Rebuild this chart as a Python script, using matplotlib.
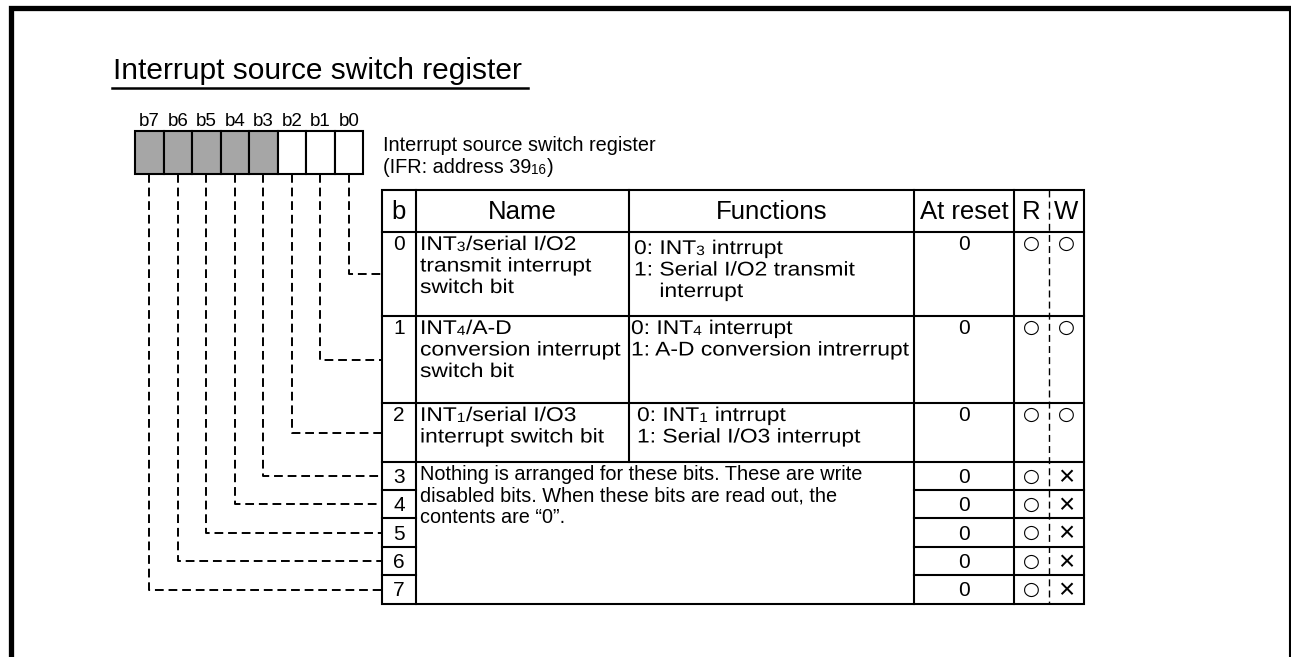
import matplotlib
matplotlib.use("Agg")
import matplotlib.pyplot as plt
from matplotlib.patches import Rectangle
from matplotlib.textpath import TextToPath
from matplotlib.font_manager import FontProperties
from matplotlib.transforms import Affine2D
from matplotlib.patheffects import AbstractPathEffect

plt.rcParams['font.family'] = ['Liberation Sans', 'DejaVu Sans']

# ---------------- data ----------------
title = "Interrupt source switch register"
reg_desc = ["Interrupt source switch register",
            "(IFR: address 39\u2081\u2086)"]
bit_labels = ["b7", "b6", "b5", "b4", "b3", "b2", "b1", "b0"]
bit_unused = [True, True, True, True, True, False, False, False]
headers = ["b", "Name", "Functions", "At reset", "R", "W"]
row_bits = ["0", "1", "2", "3", "4", "5", "6", "7"]
names = [
    ["INT\u2083/serial I/O2", "transmit interrupt", "switch bit"],
    ["INT\u2084/A-D", "conversion interrupt", "switch bit"],
    ["INT\u2081/serial I/O3", "interrupt switch bit"],
]
functions = [
    ["0: INT\u2083 intrrupt", "1: Serial I/O2 transmit", "    interrupt"],
    ["0: INT\u2084 interrupt", "1: A-D conversion intrerrupt"],
    ["0: INT\u2081 intrrupt", "1: Serial I/O3 interrupt"],
]
reserved_note = ["Nothing is arranged for these bits. These are write",
                 "disabled bits. When these bits are read out, the",
                 "contents are \u201c0\u201d."]
reset_values = ["0", "0", "0", "0", "0", "0", "0", "0"]
read_marks = ["\u25cb"] * 8
write_marks = ["\u25cb", "\u25cb", "\u25cb", "\u00d7", "\u00d7", "\u00d7", "\u00d7", "\u00d7"]

# ---------------- layout (pixel coords) ----------------
W, H = 1291, 657
fig = plt.figure(figsize=(W / 100, H / 100), dpi=100)
ax = fig.add_axes([0, 0, 1, 1])
ax.set_xlim(0, W)
ax.set_ylim(H, 0)
ax.axis('off')

K = 'black'
LW = 1.5
PT = 100 / 72.0
SUBS = {chr(0x2080 + d): str(d) for d in range(10)}
_t2p = TextToPath()


class HStretch(AbstractPathEffect):
    """Stretch rendered text horizontally about display x = x0."""

    def __init__(self, sx, x0):
        super().__init__()
        self.sx, self.x0 = sx, x0

    def draw_path(self, renderer, gc, tpath, affine, rgbFace=None):
        st = Affine2D().translate(-self.x0, 0).scale(self.sx, 1).translate(self.x0, 0)
        renderer.draw_path(gc, tpath, affine + st, rgbFace)


def adv(s, size):
    p = FontProperties(family='Liberation Sans', size=size)
    return _t2p.get_text_width_height_descent(s, p, ismath=False)[0] * PT


def rich(x, y, s, size, sx=1.0):
    """Real text; unicode subscript digits become small digits near baseline."""
    runs = []
    for ch in s:
        sub = ch in SUBS
        c = SUBS.get(ch, ch)
        if runs and runs[-1][1] == sub:
            runs[-1][0] += c
        else:
            runs.append([c, sub])
    x0 = x
    pe = [HStretch(sx, x0)] if sx != 1.0 else None
    for txt, sub in runs:
        fs = size * 0.68 if sub else size
        sp = adv("a a", fs) - adv("aa", fs)
        lead = len(txt) - len(txt.lstrip(' '))
        trail = len(txt) - len(txt.rstrip(' '))
        x += lead * sp
        core = txt.strip(' ')
        if core:
            ax.text(x, y + (1 if sub else 0), core, fontsize=fs,
                    ha='left', va='baseline', path_effects=pe)
            x += adv(core, fs) + (0.5 if sub else 0)
        x += trail * sp
    return x


# page border
ax.plot([10.5, 10.5, W], [H, 7.5, 7.5], color=K, lw=3.8, solid_capstyle='butt',
        solid_joinstyle='miter')
ax.plot([W - 1.5, W - 1.5], [7.5, H], color=K, lw=1.5)

# title
ax.text(113, 79, title, fontsize=21.5, ha='left', va='baseline')
ax.plot([112, 528], [87.5, 87.5], color=K, lw=1.8)

# register cells
reg_x0, reg_x1, reg_y0, reg_y1 = 135, 363, 131, 174
cw = (reg_x1 - reg_x0) / len(bit_labels)
for i, (lab, unused) in enumerate(zip(bit_labels, bit_unused)):
    x = reg_x0 + i * cw
    ax.add_patch(Rectangle((x, reg_y0), cw, reg_y1 - reg_y0,
                           facecolor='#a6a6a6' if unused else 'white',
                           edgecolor=K, lw=LW))
    ax.text(x + cw / 2, 126, lab, fontsize=13.5, ha='center', va='baseline')

rich(383, 151, reg_desc[0], 14.3)
rich(383, 173, reg_desc[1], 14.3)

# table geometry
cx = [382, 416, 629, 914, 1014, 1049, 1084]
ry = [190, 232, 316, 403, 462, 490, 518, 547, 575, 604]
func_dx = [5, 2, 8]
func_dy = [4, 0, 0]

ax.add_patch(Rectangle((cx[0], ry[0]), cx[-1] - cx[0], ry[-1] - ry[0],
                       facecolor='none', edgecolor=K, lw=LW))
for x in (cx[1], cx[3], cx[4]):
    ax.plot([x, x], [ry[0], ry[-1]], color=K, lw=LW)
ax.plot([cx[2], cx[2]], [ry[0], ry[4]], color=K, lw=LW)
ax.plot([cx[5], cx[5]], [ry[0], ry[-1]], color=K, lw=1.0, ls=(0, (5, 3)))
for y in ry[1:5]:
    ax.plot([cx[0], cx[-1]], [y, y], color=K, lw=LW)
for y in ry[5:-1]:
    ax.plot([cx[0], cx[1]], [y, y], color=K, lw=LW)
    ax.plot([cx[3], cx[-1]], [y, y], color=K, lw=LW)

# header
hy = (ry[0] + ry[1]) / 2 + 8
for j, h in enumerate(headers):
    ax.text((cx[j] + cx[j + 1]) / 2, hy, h, fontsize=18.5,
            ha='center', va='baseline')

BODY = 14.3
SX = 1.15
LS = 21.5
name_rows = len(names)
for r in range(len(row_bits)):
    top, bot = ry[r + 1], ry[r + 2]
    mid = (top + bot) / 2
    if r < name_rows:
        base = top + 18
        ax.text((cx[0] + cx[1]) / 2, base, row_bits[r], fontsize=15,
                ha='center', va='baseline')
        for k, line in enumerate(names[r]):
            rich(cx[1] + 4, base + k * LS, line, BODY, SX)
        for k, line in enumerate(functions[r]):
            rich(cx[2] + func_dx[r], base + func_dy[r] + k * LS, line, BODY, SX)
        my = base
    else:
        ax.text((cx[0] + cx[1]) / 2, mid + 7, row_bits[r], fontsize=15,
                ha='center', va='baseline')
        my = mid + 7
    ax.text((cx[3] + cx[4]) / 2, my, reset_values[r], fontsize=15,
            ha='center', va='baseline')
    ax.text((cx[4] + cx[5]) / 2, my - 7, read_marks[r], fontsize=14,
            ha='center', va='center', family=['DejaVu Sans'])
    mark = write_marks[r]
    is_circle = mark == "\u25cb"
    ax.text((cx[5] + cx[6]) / 2, my - 7 if is_circle else my - 5, mark,
            fontsize=14 if is_circle else 20,
            ha='center', va='center',
            family=['DejaVu Sans'] if is_circle else None)

for k, line in enumerate(reserved_note):
    rich(cx[1] + 4, ry[4] + 18 + k * LS, line, 14.3)

# dashed connectors from register bits to table rows
for i in range(len(bit_labels)):
    bit = len(bit_labels) - 1 - i
    x = reg_x0 + (i + 0.5) * cw
    y = (ry[bit + 1] + ry[bit + 2]) / 2
    ax.plot([x, x, cx[0]], [reg_y1, y, y], color=K, lw=1.4, ls=(0, (4.5, 2.5)))

fig.savefig("out.png", dpi=100)
